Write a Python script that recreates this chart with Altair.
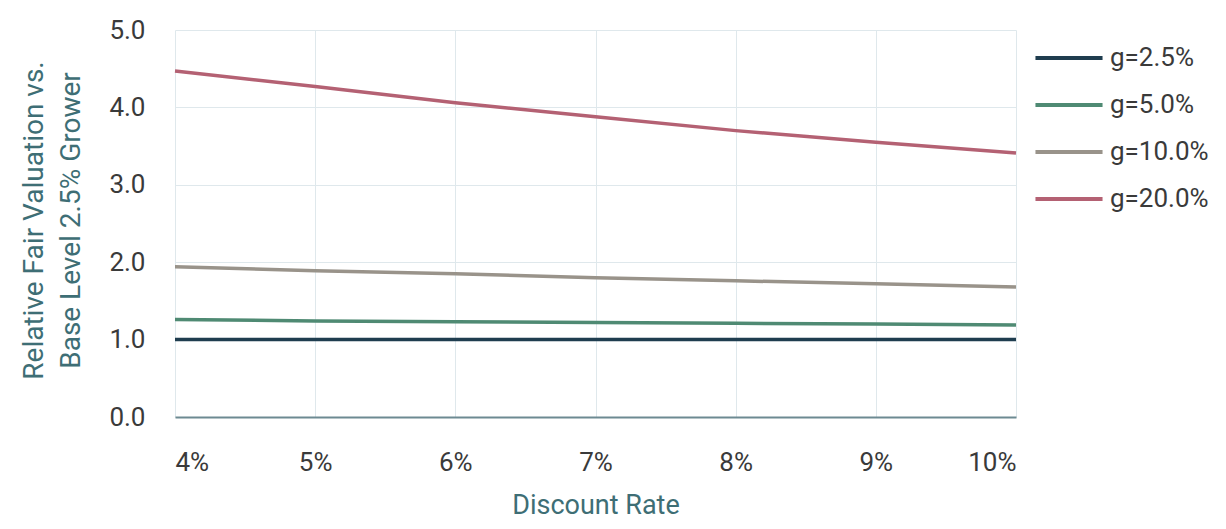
import altair as alt
import pandas as pd

# Discount rates (%) on the x axis
rates = [4, 5, 6, 7, 8, 9, 10]

# Series names and values (relative fair valuation)
series_names = ["g=2.5%", "g=5.0%", "g=10.0%", "g=20.0%"]
g_2_5 = [1.00, 1.00, 1.00, 1.00, 1.00, 1.00, 1.00]
g_5_0 = [1.26, 1.24, 1.23, 1.22, 1.21, 1.20, 1.19]
g_10_0 = [1.94, 1.89, 1.85, 1.80, 1.76, 1.72, 1.68]
g_20_0 = [4.47, 4.27, 4.06, 3.88, 3.70, 3.55, 3.41]

colors = ["#1f3d4f", "#4f8a73", "#99938a", "#b46173"]

x_ticks = [4, 5, 6, 7, 8, 9, 10]
y_ticks = [0, 1, 2, 3, 4, 5]

rows = []
for name, vals in zip(series_names, [g_2_5, g_5_0, g_10_0, g_20_0]):
    for r, v in zip(rates, vals):
        rows.append({"rate": r, "value": v, "series": name})
df = pd.DataFrame(rows)

FONT = "Roboto"
LABEL_COLOR = "#3a3a3a"
TITLE_COLOR = "#3e6e75"

chart = (
    alt.Chart(df)
    .mark_line(strokeWidth=3.5)
    .encode(
        x=alt.X(
            "rate:Q",
            scale=alt.Scale(domain=[4, 10], nice=False, zero=False),
            axis=alt.Axis(
                title="Discount Rate",
                values=x_ticks,
                labelExpr="datum.value + '%'",
                ticks=False,
                domain=True,
                domainColor="#6d8a92",
                domainWidth=2,
                grid=True,
                gridColor="#dfe8ec",
                labelFont=FONT,
                labelFontSize=26,
                labelColor=LABEL_COLOR,
                labelPadding=32,
                titleFont=FONT,
                titleFontSize=27,
                titleFontWeight="normal",
                titleColor=TITLE_COLOR,
                titleY=88,
                titleBaseline="middle",
            ),
        ),
        y=alt.Y(
            "value:Q",
            scale=alt.Scale(domain=[0, 5], nice=False),
            axis=alt.Axis(
                title=["Relative Fair Valuation vs.", "Base Level 2.5% Grower"],
                values=y_ticks,
                format=".1f",
                ticks=False,
                domain=False,
                grid=True,
                gridColor="#dfe8ec",
                labelFont=FONT,
                labelFontSize=26,
                labelColor=LABEL_COLOR,
                labelPadding=30,
                titleFont=FONT,
                titleFontSize=28,
                titleFontWeight="normal",
                titleColor=TITLE_COLOR,
                titleAngle=270,
                titleX=-155,
                titleY=190,
                titleAlign="center",
                titleBaseline="top",
                titleLineHeight=37,
            ),
        ),
        color=alt.Color(
            "series:N",
            sort=series_names,
            scale=alt.Scale(domain=series_names, range=colors),
            legend=alt.Legend(
                title=None,
                orient="none",
                legendX=858,
                legendY=15,
                symbolType="stroke",
                symbolSize=4500,
                symbolStrokeWidth=4,
                labelFont=FONT,
                labelFontSize=26,
                labelColor=LABEL_COLOR,
                labelOffset=5,
                clipHeight=26,
                rowPadding=21,
                padding=0,
            ),
        ),
    )
    .properties(
        width=841,
        height=387,
        autosize=alt.AutoSizeParams(type="none"),
        padding={"left": 167, "top": 22, "right": 202, "bottom": 104},
    )
    .configure_view(strokeWidth=0)
)

chart.save("out.html", embed_options={"renderer": "svg", "actions": False})
